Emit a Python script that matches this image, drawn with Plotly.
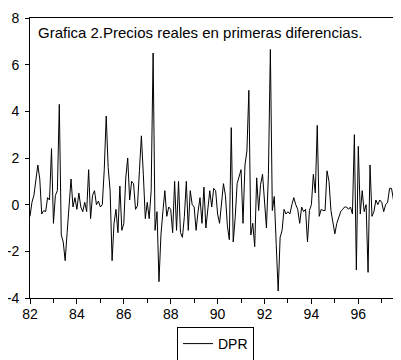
import plotly.graph_objects as go

# Monthly first differences of real prices, 1982:01 onward
dpr = [
    -0.5, 0.1, 0.4, 1.0, 1.7, 1.1, -0.4, -0.25, -0.3, 0.3,
    0.2, 2.4, -0.8, 0.4, 0.6, 4.3, -1.3, -1.6, -2.4, -1.2,
    -0.2, 1.1, -0.1, 0.3, -0.2, 0.5, -0.1, -0.3, 0.1, -0.3,
    1.5, -0.6, 0.4, 0.6, 0.0, 0.15, -0.1, 0.0, 1.5, 3.8,
    1.6, 0.6, -2.4, -0.8, -0.2, -1.2, 0.8, -1.1, -0.8, 1.15,
    2.0, 0.2, 1.0, 0.9, -0.2, -0.05, 1.45, 2.95, 1.3, -0.6,
    0.1, -0.6, 0.6, 6.5, -1.1, -0.3, -3.3, -1.3, -0.3, 0.6,
    -0.5, -0.1, -0.2, -1.2, 1.0, -1.1, 1.0, -1.2, -1.4, -0.5,
    1.0, -1.1, 0.6, 0.0, -0.1, -1.1, -0.3, 0.3, -0.8, 0.75,
    -1.0, -0.1, 0.6, -0.1, 0.7, 0.6, -0.4, -0.8, 0.2, 0.9,
    0.4, -0.9, -1.5, 3.3, -1.6, -0.55, 0.9, 1.15, 1.5, -0.8,
    1.7, 2.3, 4.9, -1.3, -0.8, -1.8, 1.15, -0.25, 0.87, 1.3,
    0.3, -1.0, 1.3, 6.65, -0.25, 0.35, -1.7, -3.7, -1.4, -1.1,
    -0.2, -0.4, -0.3, -0.4, 0.0, 0.3, 0.0, -0.2, -0.8, -0.1,
    -0.3, -0.2, -1.6, -0.25, 0.0, 1.3, 0.5, 3.4, -0.5, -0.2,
    -0.25, -0.25, 1.45, 1.0, -0.25, -0.8, -1.25, -0.8, -0.55, -0.3,
    -0.2, -0.1, -0.1, -0.2, -0.1, -0.4, 3.0, -2.8, 2.5, -0.4,
    0.6, -0.3, 0.0, -2.9, 1.7, -0.5, -0.3, 0.2, 0.0, 0.2,
    0.1, -0.3, 0.0, 0.1, 0.7, 0.7, 0.2, -0.9, -0.3, 0.6,
]
start_year = 82
x_tick_vals = [82, 84, 86, 88, 90, 92, 94, 96]
x_tick_text = ["82", "84", "86", "88", "90", "92", "94", "96"]
y_tick_vals = [-4, -2, 0, 2, 4, 6, 8]
y_tick_text = ["-4", "-2", "0", "2", "4", "6", "8"]
title_text = "Grafica 2.Precios reales en primeras diferencias."
series_name = "DPR"

dates = [start_year + i / 12 for i in range(len(dpr))]

font = "Liberation Sans, Arial, sans-serif"
fig = go.Figure()
fig.add_trace(go.Scatter(x=dates, y=dpr, mode="lines", name=series_name,
                         line=dict(color="black", width=1)))

fig.update_layout(
    width=393, height=352,
    margin=dict(l=22, r=0, t=10, b=62, autoexpand=False),
    paper_bgcolor="white", plot_bgcolor="white",
    font=dict(family=font, size=13, color="black"),
    showlegend=True,
    legend=dict(orientation="h", x=0.5, xanchor="center", y=-0.225, yanchor="bottom",
                bordercolor="black", borderwidth=1, bgcolor="white",
                font=dict(size=14), itemwidth=30),
    annotations=[dict(text=title_text, xref="paper", yref="paper", x=0.015, y=0.985,
                      xanchor="left", yanchor="top", showarrow=False,
                      font=dict(size=15, family=font))],
)
fig.update_xaxes(range=[82, 82 + 371 / 23.45], showgrid=False, zeroline=False,
                 automargin=False,
                 showline=True, linecolor="black", linewidth=1, mirror=True,
                 tickmode="array", tickvals=x_tick_vals, ticktext=x_tick_text,
                 ticks="outside", ticklen=5, tickcolor="black", ticklabelstandoff=-2,
                 minor=dict(dtick=1, ticks="outside", ticklen=4, tickcolor="black"),
                 tickfont=dict(size=14))
fig.update_yaxes(range=[-4, 8], showgrid=False, zeroline=False,
                 automargin=False,
                 showline=True, linecolor="black", linewidth=1, mirror=True,
                 tickmode="array", tickvals=y_tick_vals, ticktext=y_tick_text,
                 ticks="outside", ticklen=4, tickcolor="black", ticklabelstandoff=3,
                 tickfont=dict(size=14))
fig.write_html("out.html")
